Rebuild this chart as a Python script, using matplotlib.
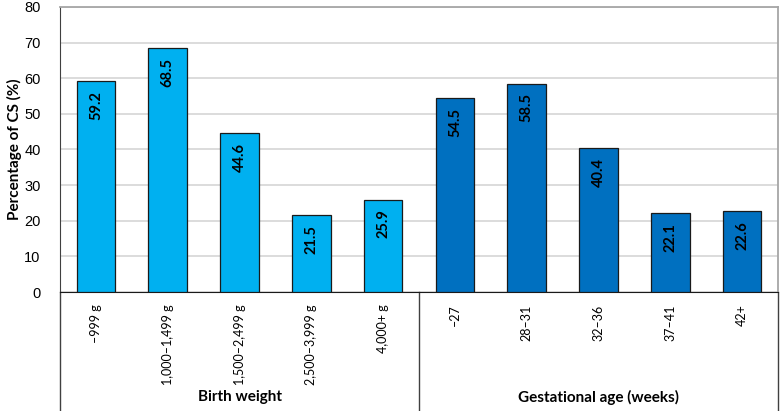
import matplotlib

matplotlib.use("Agg")
import matplotlib.pyplot as plt  # noqa: E402
import numpy as np  # noqa: E402

# ---------------------------------------------------------------------------
# Data
# ---------------------------------------------------------------------------

weight_labels = ["–999 g", "1,000–1,499 g", "1,500–2,499 g", "2,500–3,999 g", "4,000+ g"]
weight_values = [59.2, 68.5, 44.6, 21.5, 25.9]

age_labels = ["–27", "28–31", "32–36", "37–41", "42+"]
age_values = [54.5, 58.5, 40.4, 22.1, 22.6]

group_names = ["Birth weight", "Gestational age (weeks)"]
y_ticks = [0, 10, 20, 30, 40, 50, 60, 70, 80]

LIGHT = "#00B0F0"
DARK = "#0070C0"
TXT_FONT = ["Lato", "DejaVu Sans"]
NUM_FONT = ["Liberation Sans", "DejaVu Sans"]


def main() -> int:
    fig = plt.figure(figsize=(7.8, 4.11), dpi=100)
    ax = fig.add_axes([60 / 780, 119 / 411, 718 / 780, 285 / 411])

    labels = weight_labels + age_labels
    values = weight_values + age_values
    colors = [LIGHT] * len(weight_values) + [DARK] * len(age_values)
    xs = np.arange(len(values))

    ax.grid(axis="y", color="#d9d9d9", linewidth=1.3, zorder=0)
    ax.set_axisbelow(True)
    bars = ax.bar(xs, values, width=0.54, color=colors, edgecolor="#1a1a1a",
                  linewidth=0.9, zorder=3)

    for rect, v in zip(bars, values):
        ax.annotate(f"{v:.1f}", (rect.get_x() + rect.get_width() / 2, v),
                    xytext=(0, -7), textcoords="offset points",
                    ha="center", va="top", rotation=90, fontsize=10.5,
                    fontweight="bold", family=TXT_FONT, zorder=4)

    ax.set_xlim(-0.5, len(values) - 0.5)
    ax.set_ylim(0, 80)
    ax.set_yticks(y_ticks)
    ax.set_yticklabels([str(t) for t in y_ticks], family=NUM_FONT, fontsize=10.5)
    ax.set_xticks(xs)
    ax.set_xticklabels(labels, rotation=90, va="top", ha="center",
                       family=TXT_FONT, fontsize=9)
    ax.tick_params(axis="x", length=0, pad=9)
    ax.tick_params(axis="y", length=0, pad=14)
    ax.set_ylabel("Percentage of CS (%)", family=TXT_FONT, fontsize=11,
                  fontweight="bold")
    ax.yaxis.set_label_coords(-38 / 718, 0.5)

    ax.spines["left"].set_color("#404040")
    ax.spines["bottom"].set_color("#1a1a1a")
    ax.spines["top"].set_color("#a6a6a6")
    ax.spines["right"].set_color("#a6a6a6")
    ax.spines["top"].set_linewidth(1.3)
    ax.spines["right"].set_linewidth(1.3)

    # group boxes under the axis
    trans = ax.get_xaxis_transform()
    y_low = -119 / 285
    n1 = len(weight_values)
    for xpos in [-0.5, n1 - 0.5, len(values) - 0.5]:
        ax.plot([xpos, xpos], [0, y_low], transform=trans, color="#404040",
                linewidth=1.0, clip_on=False)
    centers = [(n1 - 1) / 2, n1 + (len(age_values) - 1) / 2]
    for c, name in zip(centers, group_names):
        ax.text(c, -105 / 285, name, transform=trans, ha="center", va="center",
                fontsize=11, fontweight="bold", family=TXT_FONT)

    fig.savefig("out.png", dpi=100)
    plt.close(fig)
    return 0


if __name__ == "__main__":
    raise SystemExit(main())
